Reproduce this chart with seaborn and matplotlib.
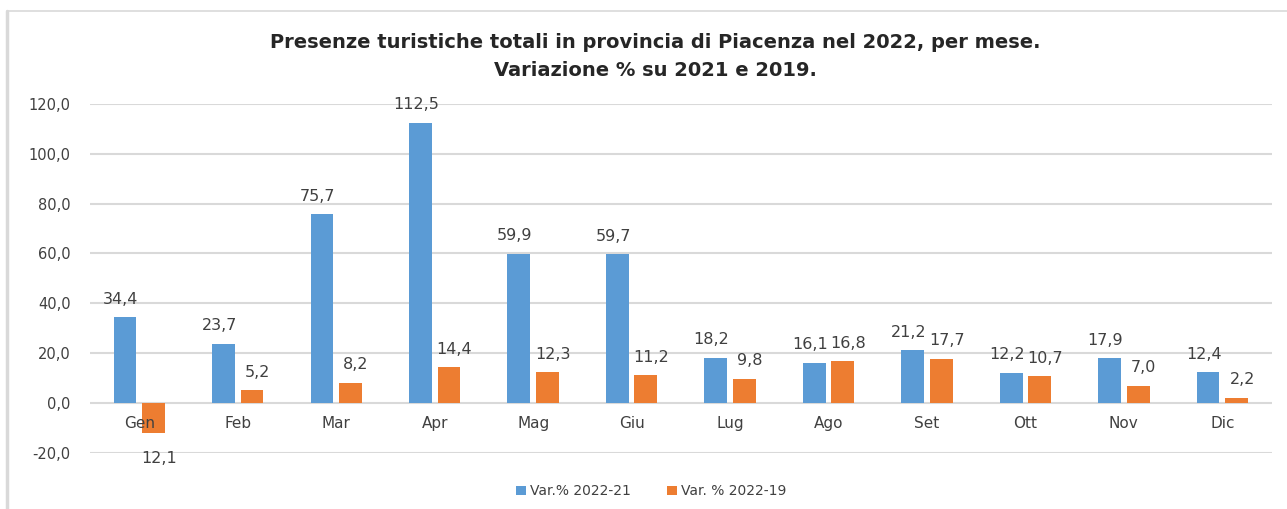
import pandas as pd
import numpy as np
import matplotlib
matplotlib.use("Agg")
import matplotlib.pyplot as plt
from matplotlib.lines import Line2D
import seaborn as sns

# dati
mesi = ['Gen', 'Feb', 'Mar', 'Apr', 'Mag', 'Giu', 'Lug', 'Ago', 'Set', 'Ott', 'Nov', 'Dic']
var_2022_21 = [34.4, 23.7, 75.7, 112.5, 59.9, 59.7, 18.2, 16.1, 21.2, 12.2, 17.9, 12.4]
var_2022_19 = [-12.1, 5.2, 8.2, 14.4, 12.3, 11.2, 9.8, 16.8, 17.7, 10.7, 7.0, 2.2]
serie = ['Var.% 2022-21', 'Var. % 2022-19']
colori = ['#5B9BD5', '#ED7D31']
y_ticks = [-20, 0, 20, 40, 60, 80, 100, 120]

df = pd.DataFrame({
    'Mese': mesi * 2,
    'Serie': [serie[0]] * len(mesi) + [serie[1]] * len(mesi),
    'Valore': var_2022_21 + var_2022_19,
})

sns.set_theme(style="white")
plt.rcParams['font.family'] = ['DejaVu Sans']
grigio = '#404040'

fig = plt.figure(figsize=(12.87, 5.09), dpi=100)
ax = fig.add_axes([0.070, 0.110, 0.918, 0.686])

sns.barplot(data=df, x='Mese', y='Valore', hue='Serie', order=mesi,
            hue_order=serie, palette=colori, width=0.58, gap=0.2,
            saturation=1, linewidth=0, ax=ax, legend=True)

ax.set_ylim(-20, 120)
ax.set_xlim(-0.5, len(mesi) - 0.5)
ax.set_yticks(y_ticks)
ax.set_yticklabels([f"{v:.1f}".replace('.', ',') for v in y_ticks],
                   fontsize=10.5, color=grigio)
ax.yaxis.grid(True, color='#d9d9d9', linewidth=1.5, zorder=0)
ax.set_axisbelow(True)
for s in ax.spines.values():
    s.set_visible(False)
ax.tick_params(axis='y', length=0, pad=14)
ax.set_xticks(range(len(mesi)))
ax.set_xticklabels([])
ax.tick_params(axis='x', length=0)
ax.set_xlabel('')
ax.set_ylabel('')

# etichette dei mesi accanto all'asse dello zero, sopra le barre
for i, m in enumerate(mesi):
    ax.annotate(m, (i, 0), xytext=(0, -15), textcoords='offset points',
                ha='center', va='center', fontsize=11, color=grigio, zorder=10)

# etichette dati (blu leggermente a sinistra, arancio a destra)
for k, cont in enumerate(ax.containers):
    dx = -3 if k == 0 else 4
    for bar in cont:
        h = bar.get_height()
        xc = bar.get_x() + bar.get_width() / 2
        txt = f"{abs(h):.1f}".replace('.', ',')
        dy = 13 if h >= 0 else -18
        ax.annotate(txt, (xc, h), xytext=(dx, dy), textcoords='offset points',
                    ha='center', va='center', fontsize=11.5, color=grigio, zorder=10)

leg = ax.legend(loc='center', bbox_to_anchor=(0.475, -0.11), ncol=2,
                frameon=False, fontsize=10, handlelength=0.7, handleheight=0.7,
                columnspacing=2.6, handletextpad=0.3)
for t in leg.get_texts():
    t.set_color(grigio)

fig.text(0.509, 0.917, "Presenze turistiche totali in provincia di Piacenza nel 2022, per mese.",
         ha='center', va='center', fontsize=14, fontweight='bold', color='#262626')
fig.text(0.509, 0.862, "Variazione % su 2021 e 2019.",
         ha='center', va='center', fontsize=14, fontweight='bold', color='#262626')

# bordo dell'area grafico
fig.add_artist(Line2D([7 / 1287, 7 / 1287], [0, 1 - 11 / 509], color='#d9d9d9',
                      linewidth=2.5, transform=fig.transFigure))
fig.add_artist(Line2D([7 / 1287, 1], [1 - 11 / 509, 1 - 11 / 509], color='#d9d9d9',
                      linewidth=1.2, transform=fig.transFigure))

fig.savefig('out.png', dpi=100, facecolor='white')
